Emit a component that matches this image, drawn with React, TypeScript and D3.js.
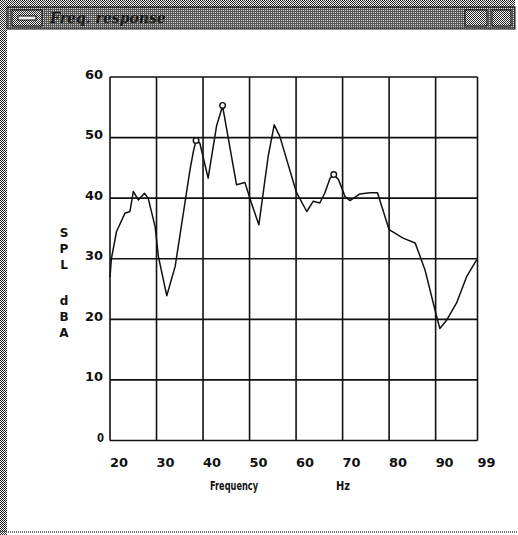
import React, { useEffect, useRef } from "react";
import * as d3 from "d3";

// frequency (Hz) and level (dBA)
const freq = [20, 20.3, 21.4, 23.2, 24.3, 25, 26.1, 27.4, 28.2, 29.7, 30.4, 32.2, 34, 36.1, 37.2, 38, 38.5, 39.3, 41.1, 42.9, 44.2, 45.1, 47.2, 49, 49.7, 50.4, 52, 54, 55.3, 56.5, 60.1, 62.3, 63.7, 65.1, 66.2, 67.3, 68.1, 69.1, 70.5, 71.6, 73.7, 75.9, 77.5, 80, 83, 85.6, 87.7, 90.2, 90.9, 92.4, 94.5, 96.7, 98.8];
const spl = [27, 30, 34.5, 37.5, 37.8, 41.1, 39.7, 40.8, 40, 35.3, 30.4, 23.9, 28.7, 39.2, 44.7, 48, 49.5, 49.1, 43.3, 51.9, 55.2, 51.3, 42.2, 42.6, 40.9, 39.2, 35.6, 46.9, 52.1, 50.2, 40.9, 37.8, 39.5, 39.2, 40.9, 43.3, 43.9, 43.1, 40.3, 39.6, 40.7, 40.9, 40.9, 34.8, 33.4, 32.6, 28.2, 20.5, 18.5, 19.9, 22.7, 27.1, 29.8];

const markFreq = [38.5, 44.2, 68.1];
const markSpl = [49.5, 55.3, 43.9];

const xTicks = [20, 30, 40, 50, 60, 70, 80, 90, 99];
const yTicks = [0, 10, 20, 30, 40, 50, 60];
const yLetters = ["S", "P", "L", "d", "B", "A"];

const W = 518;
const H = 535;
const FONT = "DejaVu Sans";

export default function App() {
  const ref = useRef<SVGSVGElement>(null);

  useEffect(() => {
    const svg = d3.select(ref.current);
    svg.selectAll("*").remove();

    const x = d3.scaleLinear().domain([20, 99]).range([110, 477.5]);
    const y = d3.scaleLinear().domain([0, 60]).range([440.5, 77]);

    const defs = svg.append("defs");
    // halftone patterns for the window chrome
    const p1 = defs.append("pattern").attr("id", "dots").attr("width", 2).attr("height", 2).attr("patternUnits", "userSpaceOnUse");
    p1.append("rect").attr("width", 2).attr("height", 2).attr("fill", "#fff");
    p1.append("rect").attr("width", 1).attr("height", 1).attr("fill", "#222");
    p1.append("rect").attr("x", 1).attr("y", 1).attr("width", 1).attr("height", 1).attr("fill", "#222");
    const p2 = defs.append("pattern").attr("id", "dark").attr("width", 2).attr("height", 2).attr("patternUnits", "userSpaceOnUse");
    p2.append("rect").attr("width", 2).attr("height", 2).attr("fill", "#555");
    p2.append("rect").attr("x", 1).attr("y", 0).attr("width", 1).attr("height", 1).attr("fill", "#d8d8d8");

    svg.append("rect").attr("width", W).attr("height", H).attr("fill", "#fff");

    // window frame
    svg.append("rect").attr("x", 0).attr("y", 0).attr("width", 7).attr("height", H).attr("fill", "url(#dots)");
    svg.append("rect").attr("x", 0).attr("y", 0).attr("width", 515).attr("height", 7).attr("fill", "url(#dots)");
    svg.append("rect").attr("x", 7).attr("y", 7).attr("width", 508).attr("height", 22).attr("fill", "url(#dark)").attr("stroke", "#111");
    svg.append("rect").attr("x", 12).attr("y", 10).attr("width", 30).attr("height", 16).attr("fill", "url(#dots)").attr("stroke", "#111");
    svg.append("rect").attr("x", 18).attr("y", 16).attr("width", 18).attr("height", 4).attr("fill", "#eee").attr("stroke", "#111");
    svg.append("text").attr("x", 50).attr("y", 23).attr("fill", "#1a1a1a").attr("font-family", "DejaVu Serif").attr("font-style", "italic").attr("font-weight", "bold").attr("font-size", 14).text("Freq. response");
    svg.append("rect").attr("x", 465).attr("y", 10).attr("width", 22).attr("height", 16).attr("fill", "url(#dots)").attr("stroke", "#111");
    svg.append("rect").attr("x", 492).attr("y", 10).attr("width", 19).attr("height", 16).attr("fill", "url(#dots)").attr("stroke", "#111");
    svg.append("line").attr("x1", 0).attr("x2", W).attr("y1", 532).attr("y2", 532).attr("stroke", "#444").attr("stroke-width", 1.5).attr("stroke-dasharray", "1 1");

    // grid
    const g = svg.append("g");
    g.selectAll(".gx").data(xTicks).join("line")
      .attr("x1", d => x(d)).attr("x2", d => x(d)).attr("y1", y(0)).attr("y2", y(60))
      .attr("stroke", "#111").attr("stroke-width", 1.6);
    g.selectAll(".gy").data(yTicks).join("line")
      .attr("x1", x(20)).attr("x2", x(99)).attr("y1", d => y(d)).attr("y2", d => y(d))
      .attr("stroke", "#111").attr("stroke-width", 1.6);

    g.selectAll(".xt").data(xTicks).join("text")
      .attr("x", d => x(d)).attr("y", 467)
      .attr("font-family", FONT).attr("font-weight", "bold").attr("fill", "#111")
      .attr("font-size", 13).attr("textLength", 18).attr("lengthAdjust", "spacingAndGlyphs")
      .text(d => d);
    g.selectAll(".yt").data(yTicks).join("text")
      .attr("x", d => (d === 0 ? 97 : 85)).attr("y", d => y(d) + 1.5)
      .attr("font-family", FONT).attr("font-weight", "bold").attr("fill", "#111")
      .attr("font-size", 13).attr("textLength", d => (d === 0 ? 7 : 18)).attr("lengthAdjust", "spacingAndGlyphs")
      .text(d => d);

    g.selectAll(".yl").data(yLetters).join("text")
      .attr("x", 64).attr("y", (d, i) => 237 + i * 16 + (i > 2 ? 20 : 0))
      .attr("text-anchor", "middle")
      .attr("font-family", FONT).attr("font-weight", "bold").attr("fill", "#111")
      .attr("font-size", 12)
      .text(d => d);

    svg.append("text").attr("x", 210).attr("y", 490)
      .attr("font-family", FONT).attr("font-weight", "bold").attr("fill", "#111")
      .attr("font-size", 12).attr("textLength", 48).attr("lengthAdjust", "spacingAndGlyphs")
      .text("Frequency");
    svg.append("text").attr("x", 336).attr("y", 490)
      .attr("font-family", FONT).attr("font-weight", "bold").attr("fill", "#111")
      .attr("font-size", 12).attr("textLength", 14).attr("lengthAdjust", "spacingAndGlyphs")
      .text("Hz");

    // response curve
    const pts: [number, number][] = freq.map((f, i) => [f, spl[i]]);
    const line = d3.line<[number, number]>().x(d => x(d[0])).y(d => y(d[1]));
    svg.append("path").datum(pts).attr("d", line).attr("fill", "none")
      .attr("stroke", "#111").attr("stroke-width", 1.5).attr("stroke-linejoin", "round");

    svg.selectAll(".mk").data(markFreq).join("circle")
      .attr("cx", d => x(d)).attr("cy", (d, i) => y(markSpl[i]))
      .attr("r", 2.8).attr("fill", "#fff").attr("stroke", "#111").attr("stroke-width", 1.4);
  }, []);

  return (
    <svg ref={ref} width={W} height={H} style={{ position: "absolute", left: 0, top: 0, display: "block" }} />
  );
}
